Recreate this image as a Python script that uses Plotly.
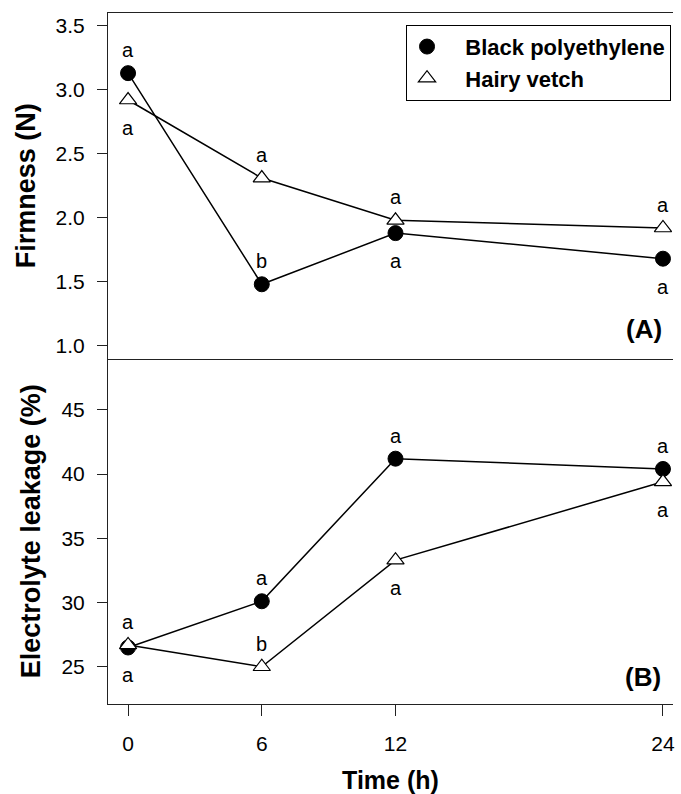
import plotly.graph_objects as go
from plotly.subplots import make_subplots

# ---- data ----
time_h = [0, 6, 12, 24]
firm_bp = [3.13, 1.48, 1.88, 1.68]
firm_hv = [2.92, 2.31, 1.98, 1.92]
leak_bp = [26.5, 30.1, 41.2, 40.4]
leak_hv = [26.7, 25.0, 33.3, 39.4]

firm_bp_letters = ["a", "b", "a", "a"]
firm_hv_letters = ["a", "a", "a", "a"]
leak_bp_letters = ["a", "a", "a", "a"]
leak_hv_letters = ["a", "b", "a", "a"]

firm_bp_side = ["above", "above", "below", "below"]
firm_hv_side = ["below", "above", "above", "above"]
leak_bp_side = ["below", "above", "above", "above"]
leak_hv_side = ["above", "above", "below", "below"]

x_ticks = [0, 6, 12, 24]
firm_ticks = [1.0, 1.5, 2.0, 2.5, 3.0, 3.5]
leak_ticks = [25, 30, 35, 40, 45]

series_names = ["Black polyethylene", "Hairy vetch"]

FONT = "Liberation Sans, Arial, sans-serif"
AX = "#222"
PAD = "\u00a0\u00a0\u00a0"

fig = make_subplots(rows=2, cols=1, shared_xaxes=True, vertical_spacing=0)

bp_marker = dict(symbol="circle", size=15, color="black", line=dict(color="black", width=1))
hv_marker = dict(symbol="triangle-up", size=15, color="white", line=dict(color="black", width=1.2))
line_style = dict(color="black", width=1.5)

for row, bp, hv in [(1, firm_bp, firm_hv), (2, leak_bp, leak_hv)]:
    fig.add_trace(go.Scatter(x=time_h, y=bp, mode="lines+markers", line=line_style,
                             marker=bp_marker, showlegend=False, name=series_names[0]), row=row, col=1)
    fig.add_trace(go.Scatter(x=time_h, y=hv, mode="lines+markers", line=line_style,
                             marker=hv_marker, showlegend=False, name=series_names[1]), row=row, col=1)

# legend-only entries (markers only)
fig.add_trace(go.Scatter(x=[None], y=[None], mode="markers", marker=bp_marker,
                         name=PAD + "<b>" + series_names[0] + "</b>", showlegend=True), row=1, col=1)
fig.add_trace(go.Scatter(x=[None], y=[None], mode="markers", marker=hv_marker,
                         name=PAD + "<b>" + series_names[1] + "</b>", showlegend=True), row=1, col=1)

annotations = []
def add_letters(xs, ys, letters, sides, xref, yref):
    for x, y, t, s in zip(xs, ys, letters, sides):
        annotations.append(dict(x=x, y=y, xref=xref, yref=yref, text=t, showarrow=False,
                                yshift=23 if s == "above" else -28,
                                font=dict(family=FONT, size=20, color="black")))

add_letters(time_h, firm_bp, firm_bp_letters, firm_bp_side, "x", "y")
add_letters(time_h, firm_hv, firm_hv_letters, firm_hv_side, "x", "y")
add_letters(time_h, leak_bp, leak_bp_letters, leak_bp_side, "x2", "y2")
add_letters(time_h, leak_hv, leak_hv_letters, leak_hv_side, "x2", "y2")

annotations.append(dict(x=0.984, y=0.543, xref="paper", yref="paper", text="<b>(A)</b>",
                        showarrow=False, xanchor="right", yanchor="middle",
                        font=dict(family=FONT, size=26, color="black")))
annotations.append(dict(x=0.982, y=0.039, xref="paper", yref="paper", text="<b>(B)</b>",
                        showarrow=False, xanchor="right", yanchor="middle",
                        font=dict(family=FONT, size=26, color="black")))

fig.update_layout(
    width=681, height=794,
    margin=dict(l=108, r=8, t=13, b=90, autoexpand=False),
    paper_bgcolor="white", plot_bgcolor="white",
    font=dict(family=FONT, color="black"),
    annotations=annotations,
    legend=dict(x=0.9965, y=0.983, xanchor="right", yanchor="top",
                bordercolor="black", borderwidth=1, bgcolor="white",
                font=dict(family=FONT, size=22, color="black"),
                itemwidth=30),
)

fig.update_xaxes(range=[-0.9, 24.45], showgrid=False, zeroline=False, showline=True,
                 linecolor=AX, linewidth=1, automargin=False)
fig.update_xaxes(row=1, col=1, mirror=True, ticks="", showticklabels=False)
fig.update_xaxes(row=2, col=1, tickmode="array", tickvals=x_ticks, ticks="outside",
                 ticklen=11, tickcolor=AX, tickfont=dict(family=FONT, size=21, color="black"),
                 ticklabelstandoff=10,
                 title=dict(text="<b>Time (h)</b>", font=dict(family=FONT, size=25, color="black"),
                            standoff=34))

fig.update_yaxes(row=1, col=1, range=[0.9, 3.6], tickmode="array", tickvals=firm_ticks,
                 tickformat=".1f",
                 title=dict(text="<b>Firmness (N)</b>", font=dict(family=FONT, size=27, color="black"),
                            standoff=12))
fig.update_yaxes(row=2, col=1, range=[22.1, 49.0], tickmode="array", tickvals=leak_ticks,
                 title=dict(text="<b>Electrolyte leakage (%)</b>", font=dict(family=FONT, size=27, color="black"),
                            standoff=12))
fig.update_yaxes(showgrid=False, zeroline=False, showline=True, linecolor=AX, linewidth=1,
                 ticks="outside", ticklen=10, tickcolor=AX, ticklabelstandoff=8, automargin=False,
                 tickfont=dict(family=FONT, size=21, color="black"))

# Remove the default 8px page margin so the figure fills the window exactly.
fig.write_html("out.html", config={"displayModeBar": False},
               post_script="document.body.style.margin='0px';")
